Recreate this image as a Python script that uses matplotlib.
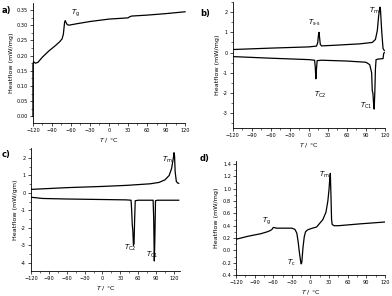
import matplotlib
matplotlib.use("Agg")
import matplotlib.pyplot as plt
from matplotlib.ticker import MultipleLocator

# ---- data ----
a_T = [-120, -120, -119, -118, -116, -112, -105, -95, -85, -78, -74, -72, -71, -70, -69, -68, -66, -63, -50, -30, 0, 30, 33, 36, 60, 90, 120]
a_H = [0.00, 0.17, 0.18, 0.178, 0.175, 0.178, 0.195, 0.215, 0.232, 0.245, 0.255, 0.27, 0.29, 0.31, 0.315, 0.31, 0.302, 0.30, 0.305, 0.312, 0.32, 0.324, 0.328, 0.33, 0.333, 0.338, 0.344]

b_heat_T = [-120, -60, 0, 12, 14, 15, 16, 17, 18, 20, 40, 80, 100, 105, 108, 110, 112, 113, 115, 117, 119]
b_heat_H = [0.15, 0.22, 0.28, 0.32, 0.5, 0.85, 1.0, 0.7, 0.4, 0.33, 0.36, 0.43, 0.5, 0.65, 1.1, 1.8, 2.25, 2.1, 1.0, 0.2, 0.1]
b_cool_T = [119, 118, 117, 110, 106, 105, 104, 103, 102, 101, 100, 99, 96, 90, 60, 20, 13, 12, 11, 10, 9, 0, -60, -120]
b_cool_H = [0.0, -0.05, -0.3, -0.32, -0.35, -0.8, -2.0, -2.8, -2.5, -2.0, -1.9, -1.0, -0.6, -0.48, -0.42, -0.38, -0.4, -0.8, -1.3, -0.7, -0.38, -0.35, -0.28, -0.2]

c_heat_T = [-120, -60, 0, 40, 80, 95, 105, 112, 116, 119, 120, 121, 122, 124, 126, 128]
c_heat_H = [0.2, 0.3, 0.37, 0.43, 0.52, 0.6, 0.75, 1.0, 1.4, 2.0, 2.3, 2.1, 1.2, 0.65, 0.57, 0.55]
c_cool_T = [128, 100, 92, 89, 88, 87, 86, 85, 80, 60, 55, 54, 53, 52, 51, 50, 49, 48, 40, 0, -60, -100, -120]
c_cool_H = [-0.42, -0.42, -0.42, -0.45, -2.5, -3.9, -1.5, -0.42, -0.42, -0.42, -0.45, -1.5, -2.9, -3.0, -2.2, -1.8, -1.0, -0.42, -0.4, -0.38, -0.35, -0.32, -0.25]

d_T = [-120, -100, -80, -70, -65, -62, -60, -58, -55, -45, -30, -25, -22, -20, -18, -16, -15, -14, -12, -10, -8, -5, 0, 10, 20, 25, 28, 30, 31, 32, 33, 34, 35, 38, 45, 80, 120]
d_H = [0.18, 0.23, 0.27, 0.3, 0.32, 0.34, 0.37, 0.37, 0.36, 0.36, 0.36, 0.34, 0.28, 0.15, -0.02, -0.17, -0.22, -0.2, 0.05, 0.22, 0.3, 0.33, 0.35, 0.38, 0.5, 0.62, 0.8, 1.0, 1.15, 1.25, 0.9, 0.5, 0.42, 0.4, 0.4, 0.43, 0.46]

x_ticks = [-120, -90, -60, -30, 0, 30, 60, 90, 120]

fig = plt.figure(figsize=(3.92, 2.96), dpi=100)
fs_tick = 3.6
fs_lab = 4.6
fs_ann = 5.0

def style(ax, ylab, xlim, ylim, ymajor, yfmt):
    ax.spines['top'].set_visible(False)
    ax.spines['right'].set_visible(False)
    for s in ['left', 'bottom']:
        ax.spines[s].set_linewidth(0.6)
    ax.set_xlim(*xlim)
    ax.set_ylim(*ylim)
    ax.set_xticks(x_ticks)
    ax.xaxis.set_minor_locator(MultipleLocator(15))
    ax.yaxis.set_major_locator(MultipleLocator(ymajor))
    ax.yaxis.set_minor_locator(MultipleLocator(ymajor / 2))
    ax.yaxis.set_major_formatter(plt.FormatStrFormatter(yfmt))
    ax.tick_params(which='major', length=2, width=0.5, labelsize=fs_tick, pad=1.5)
    ax.tick_params(which='minor', length=1.2, width=0.4)
    ax.set_ylabel(ylab, fontsize=fs_lab, labelpad=2)
    ax.set_xlabel(r'$T$ / °C', fontsize=fs_lab, labelpad=2)

lw = 0.9
# a
axa = fig.add_axes([0.084, 0.584, 0.388, 0.406])
axa.plot(a_T, a_H, color='black', lw=lw, clip_on=False)
style(axa, 'Heatflow (mW/mg)', (-120, 120), (-0.022, 0.373), 0.05, '%.2f')
axa.text(-60, 0.335, r'$T_\mathrm{g}$', fontsize=fs_ann)
fig.text(0.005, 0.955, 'a)', fontsize=6, fontweight='bold')

# b
axb = fig.add_axes([0.594, 0.568, 0.388, 0.425])
axb.plot(b_heat_T, b_heat_H, color='black', lw=lw)
axb.plot(b_cool_T, b_cool_H, color='black', lw=lw)
style(axb, 'Heatflow (mW/mg)', (-120, 120), (-3.73, 2.5), 1, '%d')
axb.text(-2, 1.35, '$T_\\mathrm{s\u2010s}$', fontsize=fs_ann)
axb.text(95, 1.95, r'$T_\mathrm{m}$', fontsize=fs_ann)
axb.text(8, -2.2, r'$T_\mathrm{C2}$', fontsize=fs_ann)
axb.text(80, -2.75, r'$T_\mathrm{C1}$', fontsize=fs_ann)
fig.text(0.51, 0.945, 'b)', fontsize=6, fontweight='bold')

# c
axc = fig.add_axes([0.079, 0.084, 0.38, 0.416])
axc.plot(c_heat_T, c_heat_H, color='black', lw=lw)
axc.plot(c_cool_T, c_cool_H, color='black', lw=lw)
style(axc, 'Heatflow (mW/gm)', (-120, 130), (-4.48, 2.57), 1, '%d')
axc.text(100, 1.8, r'$T_\mathrm{m}$', fontsize=fs_ann)
axc.text(36, -3.25, r'$T_\mathrm{C2}$', fontsize=fs_ann)
axc.text(73, -3.65, r'$T_\mathrm{C1}$', fontsize=fs_ann)
fig.text(0.005, 0.47, 'c)', fontsize=6, fontweight='bold')

# d
axd = fig.add_axes([0.602, 0.071, 0.38, 0.385])
axd.plot(d_T, d_H, color='black', lw=lw)
style(axd, 'Heatflow (mW/mg)', (-120, 120), (-0.4, 1.45), 0.2, '%.1f')
axd.text(-78, 0.45, r'$T_\mathrm{g}$', fontsize=fs_ann)
axd.text(-37, -0.24, r'$T_\mathrm{c}$', fontsize=fs_ann)
axd.text(14, 1.2, r'$T_\mathrm{m}$', fontsize=fs_ann)
fig.text(0.51, 0.455, 'd)', fontsize=6, fontweight='bold')

fig.savefig('out.png', dpi=100)
